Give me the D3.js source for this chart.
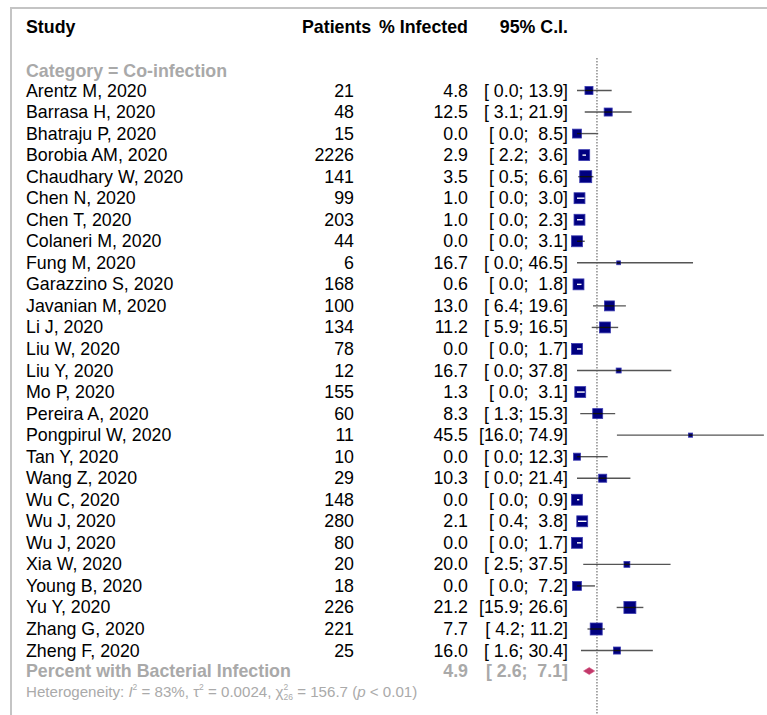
<!DOCTYPE html>
<html>
<head>
<meta charset="utf-8">
<script src="https://cdn.jsdelivr.net/npm/d3@7"></script>
<style>
  html, body { margin: 0; padding: 0; background: #fff; }
  svg { display: block; font-family: "Liberation Sans", Arial, sans-serif; }
  text { white-space: pre; }
</style>
</head>
<body>
<svg id="chart" width="767" height="715"></svg>
<script>
// Study-level data: proportion (%) with bacterial co-infection and 95% CI
const studies = [
  "Arentz M, 2020", "Barrasa H, 2020", "Bhatraju P, 2020", "Borobia AM, 2020",
  "Chaudhary W, 2020", "Chen N, 2020", "Chen T, 2020", "Colaneri M, 2020",
  "Fung M, 2020", "Garazzino S, 2020", "Javanian M, 2020", "Li J, 2020",
  "Liu W, 2020", "Liu Y, 2020", "Mo P, 2020", "Pereira A, 2020",
  "Pongpirul W, 2020", "Tan Y, 2020", "Wang Z, 2020", "Wu C, 2020",
  "Wu J, 2020", "Wu J, 2020", "Xia W, 2020", "Young B, 2020",
  "Yu Y, 2020", "Zhang G, 2020", "Zheng F, 2020"
];
const patients = [21, 48, 15, 2226, 141, 99, 203, 44, 6, 168, 100, 134, 78, 12,
  155, 60, 11, 10, 29, 148, 280, 80, 20, 18, 226, 221, 25];
const percent = [4.8, 12.5, 0.0, 2.9, 3.5, 1.0, 1.0, 0.0, 16.7, 0.6, 13.0, 11.2,
  0.0, 16.7, 1.3, 8.3, 45.5, 0.0, 10.3, 0.0, 2.1, 0.0, 20.0, 0.0, 21.2, 7.7, 16.0];
const lower = [0.0, 3.1, 0.0, 2.2, 0.5, 0.0, 0.0, 0.0, 0.0, 0.0, 6.4, 5.9, 0.0,
  0.0, 0.0, 1.3, 16.0, 0.0, 0.0, 0.0, 0.4, 0.0, 2.5, 0.0, 15.9, 4.2, 1.6];
const upper = [13.9, 21.9, 8.5, 3.6, 6.6, 3.0, 2.3, 3.1, 46.5, 1.8, 19.6, 16.5,
  1.7, 37.8, 3.1, 15.3, 74.9, 12.3, 21.4, 0.9, 3.8, 1.7, 37.5, 7.2, 26.6, 11.2, 30.4];
// study weights (%)
const weights = [2.6, 2.6, 3.2, 4.8, 5.8, 4.8, 4.8, 4.8, 0.6, 4.8, 4.0, 4.8, 4.8,
  1.0, 4.8, 4.0, 0.7, 2.0, 2.6, 4.8, 4.8, 4.8, 1.4, 3.2, 5.8, 5.8, 2.0];

// Pooled estimate
const pooled = { label: "Percent with Bacterial Infection", est: 4.9, lo: 2.6, hi: 7.1 };
const categoryLabel = "Category = Co-infection";
const columnHeaders = ["Study", "Patients", "% Infected", "95% C.I."];
const refValue = 8;

const svg = d3.select("#chart");
const W = 767, H = 715;
const fs = 17.8;
const grey = "#a9a9a9";

// outer frame
svg.append("path")
  .attr("d", `M11,${H} L11,8 L${W},8`)
  .attr("fill", "none").attr("stroke", "#c4c4c4").attr("stroke-width", 2);

const x = d3.scaleLinear().domain([0, 100]).range([577, 826.5]);
const y = d3.scaleLinear().domain([0, 1]).range([90.5, 112.04]);
const size = d3.scaleSqrt().domain([0, 5.8]).range([0, 12]);

const colStudy = 26, colN = 354, colPct = 468, colCI = 568;

// column headers
const hdr = svg.append("g").attr("font-weight", "bold").attr("font-size", fs).attr("fill", "#000");
hdr.append("text").attr("x", colStudy).attr("y", 33).text(columnHeaders[0]);
hdr.append("text").attr("x", 302).attr("y", 33).text(columnHeaders[1]);
hdr.append("text").attr("x", colPct).attr("y", 33).attr("text-anchor", "end").text(columnHeaders[2]);
hdr.append("text").attr("x", colCI).attr("y", 33).attr("text-anchor", "end").text(columnHeaders[3]);

// subgroup label
svg.append("text").attr("x", colStudy).attr("y", 77)
  .attr("font-size", fs).attr("font-weight", "bold").attr("fill", grey)
  .text(categoryLabel);

// reference line
svg.append("line")
  .attr("x1", x(refValue)).attr("x2", x(refValue))
  .attr("y1", 58).attr("y2", H)
  .attr("stroke", "#7a7a7a").attr("stroke-width", 1.3)
  .attr("stroke-dasharray", "1.5,1.5");

const fmt = d3.format(".1f");
const pad = v => { const s = fmt(v); return s.length < 4 ? " " + s : s; };
const ciText = (lo, hi) => `[${pad(lo)}; ${pad(hi)}]`;

const rows = studies.map((s, i) => ({
  study: s, n: patients[i], p: percent[i], lo: lower[i], hi: upper[i], w: weights[i], i
}));

const rowG = svg.append("g").selectAll("g").data(rows).join("g")
  .attr("transform", d => `translate(0,${y(d.i)})`);

rowG.append("text").attr("x", colStudy).attr("y", 6).attr("font-size", fs).text(d => d.study);
rowG.append("text").attr("x", colN).attr("y", 6).attr("font-size", fs)
  .attr("text-anchor", "end").text(d => d.n);
rowG.append("text").attr("x", colPct).attr("y", 6).attr("font-size", fs)
  .attr("text-anchor", "end").text(d => fmt(d.p));
rowG.append("text").attr("x", colCI).attr("y", 6).attr("font-size", fs)
  .attr("text-anchor", "end").text(d => ciText(d.lo, d.hi));

// CI lines outside the boxes
rowG.append("line")
  .attr("x1", d => x(d.lo)).attr("x2", d => Math.min(x(d.hi), W))
  .attr("y1", 0).attr("y2", 0)
  .attr("stroke", "#555").attr("stroke-width", 1.4);

// weight boxes
rowG.append("rect")
  .attr("x", d => x(d.p) - size(d.w) / 2)
  .attr("y", d => -size(d.w) / 2)
  .attr("width", d => size(d.w))
  .attr("height", d => size(d.w))
  .attr("fill", "#000080")
  .attr("stroke", "#3a3ab0").attr("stroke-width", 0.8);

// CI line drawn over the box: white when it lies inside the box
rowG.append("line")
  .attr("x1", d => Math.max(x(d.lo), x(d.p) - size(d.w) / 2))
  .attr("x2", d => Math.min(x(d.hi), x(d.p) + size(d.w) / 2))
  .attr("y1", 0).attr("y2", 0)
  .attr("stroke", d => (x(d.lo) >= x(d.p) - size(d.w) / 2 && x(d.hi) <= x(d.p) + size(d.w) / 2) ? "#fff" : "#111")
  .attr("stroke-width", 1.4);

// pooled row
const yS = 671;
svg.append("text").attr("x", colStudy).attr("y", yS + 6).attr("font-size", fs)
  .attr("font-weight", "bold").attr("fill", grey).text(pooled.label);
svg.append("text").attr("x", colPct).attr("y", yS + 6).attr("font-size", fs)
  .attr("font-weight", "bold").attr("fill", grey).attr("text-anchor", "end").text(fmt(pooled.est));
svg.append("text").attr("x", colCI).attr("y", yS + 6).attr("font-size", fs)
  .attr("font-weight", "bold").attr("fill", grey).attr("text-anchor", "end")
  .text(ciText(pooled.lo, pooled.hi));
svg.append("path")
  .attr("d", `M${x(pooled.lo)},${yS} L${x(pooled.est)},${yS - 3.5} L${x(pooled.hi)},${yS} L${x(pooled.est)},${yS + 3.5} Z`)
  .attr("fill", "#c2386a").attr("stroke", "#d0507c").attr("stroke-width", 0.6);

// heterogeneity statement, assembled piece by piece
const het = svg.append("g").attr("fill", "#aaa");
const hfs = 15.1;
let cx = colStudy;
const base = 697;
function piece(str, opts = {}) {
  const t = het.append("text")
    .attr("x", cx).attr("y", base + (opts.dy || 0))
    .attr("font-size", opts.size || hfs)
    .attr("font-style", opts.italic ? "italic" : "normal")
    .text(str);
  const w = t.node().getComputedTextLength();
  if (!opts.noAdvance) cx += w;
  return w;
}
piece("Heterogeneity: ");
piece("I", { italic: true });
piece("2", { size: 8.5, dy: -7 });
piece(" = 83%, ");
piece("τ");
piece("2", { size: 8.5, dy: -7 });
piece(" = 0.0024, ");
piece("χ");
piece("2", { size: 8.5, dy: -7, noAdvance: true });
piece("26", { size: 8.5, dy: 3 });
piece(" = 156.7 (");
piece("p", { italic: true });
piece(" < 0.01)");
</script>
</body>
</html>
